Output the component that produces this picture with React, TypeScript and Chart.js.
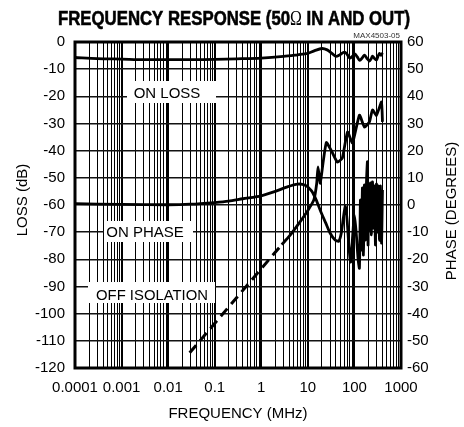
import React, { useEffect, useRef } from "react";
import { Chart, registerables } from "chart.js";

Chart.register(...registerables);

// ---- Data ----
const xTickLabels = ["0.0001", "0.001", "0.01", "0.1", "1", "10", "100", "1000"];

const lossFreq = [0.0001, 0.0003, 0.001, 0.003, 0.01, 0.03, 0.1, 0.3, 1, 3, 6, 10, 14, 20, 26, 33, 40, 48, 61, 70, 79, 90, 102, 115, 130, 148, 165, 185, 210, 228, 244, 268, 297, 320, 346, 372, 400];
const lossDb = [-5.7, -6.1, -6.3, -6.5, -6.5, -6.5, -6.4, -6.2, -5.9, -5.3, -4.7, -4.2, -3.2, -2.4, -2.9, -4.2, -5.3, -4.8, -3.7, -4.6, -5.9, -5.3, -4.4, -5.5, -6.8, -5.8, -4.8, -6.0, -7.0, -6.2, -5.2, -6.0, -6.6, -5.3, -4.2, -4.9, -4.0];

const phaseFreq = [0.0001, 0.001, 0.01, 0.03, 0.1, 0.2, 0.4, 1, 2, 3.5, 6, 9, 12, 15, 19, 24, 30, 38, 46, 52, 58, 64, 70, 76, 83, 92, 100, 110, 120, 128, 134.6, 141.5, 148.7, 156.2, 164.2, 172.5, 181.3, 190.5, 196, 202, 210.4, 221, 232.3, 244.1, 256.5, 269.5, 283.2, 297.6, 312.7, 328.6, 345.3, 362.8, 381.3, 400];
const phaseDeg = [0.5, 0.2, 0.1, 0.3, 0.9, 1.4, 2.3, 3.4, 5.0, 6.6, 7.7, 7.2, 5.2, 2.0, -2.5, -6.5, -10.3, -12.8, -13.3, -10.5, -4.5, -0.5, -6, -15, -21, -11, -3.7, -11, -20, -23.2, 1.8, -16.6, 6.3, -18.4, 7.4, -12.9, 8.1, 15.8, -14.7, 5.5, -9.2, 8.1, -11, 8.5, -8.5, 7, -14.7, 7.7, -10, 7, -13, 7, -14, 5.5];

const isoDashFreq = [0.029, 2.75];
const isoDashDb = [-114.4, -74.6];

const isoFreq = [2.75, 4, 6.6, 10, 13.5, 15.5, 16.5, 18.5, 21, 25, 32, 43, 55, 71, 91, 128, 164, 210, 244, 297, 381, 400];
const isoDb = [-74.6, -71.5, -66.5, -62, -58, -52, -46, -52, -45, -37, -40, -44.2, -42.7, -33.1, -37.2, -26.9, -31.3, -29.4, -25, -27, -22.1, -29.4];

const FONT = "'Liberation Sans', Arial, sans-serif";

function pts(xs: number[], ys: number[]) {
  return xs.map((x, i) => ({ x, y: ys[i] }));
}

function isDecade(v: number) {
  const l = Math.log10(v);
  return Math.abs(l - Math.round(l)) < 1e-6;
}

export default function App() {
  const ref = useRef<HTMLCanvasElement | null>(null);

  useEffect(() => {
    const canvas = ref.current;
    if (!canvas) return;

    const xTicks: number[] = [];
    for (let e = -4; e < 3; e++) {
      for (let m = 1; m < 10; m++) xTicks.push(parseFloat((m * Math.pow(10, e)).toPrecision(6)));
    }
    xTicks.push(1000);

    const overlay = {
      id: "overlay",
      beforeDatasetsDraw(chart: any) {
        const ctx = chart.ctx as CanvasRenderingContext2D;
        ctx.save();
        const boxes: [string, number, number, number, number, number, number, number][] = [
          ["ON LOSS", 127, 81, 89, 22, 167, 98, 0],
          ["ON PHASE", 104, 221, 89, 21, 145, 237, 0],
          ["OFF ISOLATION", 88, 282, 127, 21, 152, 300, 112],
        ];
        for (const [t, bx, by, bw, bh, tx, ty, mw] of boxes) {
          ctx.fillStyle = "#fff";
          ctx.fillRect(bx, by, bw, bh);
          ctx.fillStyle = "#000";
          ctx.font = `15px ${FONT}`;
          ctx.textAlign = "center";
          ctx.textBaseline = "alphabetic";
          if (mw) ctx.fillText(t, tx, ty, mw);
          else ctx.fillText(t, tx, ty);
        }
        ctx.restore();
      },
      afterDatasetsDraw(chart: any) {
        const ctx = chart.ctx as CanvasRenderingContext2D;
        const a = chart.chartArea;
        ctx.save();
        ctx.strokeStyle = "#000";
        ctx.lineWidth = 3;
        ctx.strokeRect(a.left, a.top, a.right - a.left, a.bottom - a.top);
        ctx.restore();
      },
      afterDraw(chart: any) {
        const ctx = chart.ctx as CanvasRenderingContext2D;
        ctx.save();
        ctx.fillStyle = "#000";
        // Title in pieces (Omega in a lighter face), condensed horizontally
        const p1 = "FREQUENCY RESPONSE (50";
        const p2 = "\u03A9";
        const p3 = " IN AND OUT)";
        const f1 = `bold 21px ${FONT}`;
        const f2 = "20px 'Liberation Serif', serif";
        ctx.font = f1;
        const w1 = ctx.measureText(p1).width;
        const w3 = ctx.measureText(p3).width;
        ctx.font = f2;
        const w2 = ctx.measureText(p2).width;
        const total = w1 + w2 + w3;
        const targetW = 352;
        const s = targetW / total;
        ctx.save();
        ctx.translate(234 - targetW / 2, 25);
        ctx.scale(s, 1);
        ctx.textAlign = "left";
        ctx.textBaseline = "alphabetic";
        let x = 0;
        ctx.font = f1;
        ctx.fillText(p1, x, 0);
        ctx.lineWidth = 0.6;
        ctx.strokeStyle = "#000";
        ctx.strokeText(p1, x, 0);
        x += w1;
        ctx.font = f2;
        ctx.fillText(p2, x, 0);
        x += w2;
        ctx.font = f1;
        ctx.fillText(p3, x, 0);
        ctx.strokeText(p3, x, 0);
        ctx.restore();

        // Figure id
        ctx.font = `8px ${FONT}`;
        ctx.fillStyle = "#333";
        ctx.textAlign = "right";
        ctx.textBaseline = "alphabetic";
        ctx.fillText("MAX4503-05", 400, 38);

        // Axis titles
        ctx.fillStyle = "#000";
        ctx.font = `15px ${FONT}`;
        ctx.textAlign = "center";
        ctx.textBaseline = "middle";
        ctx.fillText("FREQUENCY (MHz)", 238, 414);

        ctx.save();
        ctx.translate(23, 200);
        ctx.rotate(-Math.PI / 2);
        ctx.fillText("LOSS (dB)", 0, 0);
        ctx.restore();

        ctx.save();
        ctx.translate(452, 211);
        ctx.rotate(-Math.PI / 2);
        ctx.fillText("PHASE (DEGREES)", 0, 0);
        ctx.restore();

        ctx.restore();
      },
    };

    const lineBase = {
      borderColor: "#000",
      backgroundColor: "#000",
      borderWidth: 2.8,
      pointRadius: 0,
      fill: false,
    };

    const chart = new Chart(canvas, {
      type: "line",
      data: {
        datasets: [
          { ...lineBase, label: "ON LOSS", data: pts(lossFreq, lossDb), yAxisID: "y", tension: 0.3 },
          { ...lineBase, label: "ON PHASE", data: pts(phaseFreq, phaseDeg), yAxisID: "y1", tension: 0.25 },
          { ...lineBase, label: "OFF ISOLATION (dashed)", data: pts(isoDashFreq, isoDashDb), yAxisID: "y", borderDash: [10, 6], borderWidth: 3, tension: 0 },
          { ...lineBase, label: "OFF ISOLATION", data: pts(isoFreq, isoDb), yAxisID: "y", tension: 0.15 },
        ],
      } as any,
      options: {
        animation: false,
        responsive: false,
        maintainAspectRatio: false,
        layout: { padding: { top: 42, left: 0, right: 0, bottom: 0 } },
        plugins: { legend: { display: false }, tooltip: { enabled: false }, title: { display: false } },
        scales: {
          x: {
            type: "logarithmic",
            min: 0.0001,
            max: 1000,
            afterBuildTicks: (scale: any) => {
              scale.ticks = xTicks.map((v) => ({ value: v, major: isDecade(v) }));
            },
            afterFit: (scale: any) => {
              scale.height = 59;
            },
            ticks: {
              autoSkip: false,
              maxRotation: 0,
              minRotation: 0,
              padding: 11,
              color: "#000",
              font: { family: FONT, size: 15 },
              callback: (value: any) => {
                const v = Number(value);
                if (!isDecade(v)) return "";
                return xTickLabels[Math.round(Math.log10(v)) + 4];
              },
            },
            grid: {
              color: "#000",
              lineWidth: (c: any) => (c.tick && isDecade(c.tick.value) ? 2 : 1),
              drawTicks: false,
            },
            border: { display: false },
          },
          y: {
            type: "linear",
            position: "left",
            min: -120,
            max: 0,
            afterFit: (scale: any) => {
              scale.width = 75;
            },
            ticks: {
              stepSize: 10,
              padding: 10,
              color: "#000",
              font: { family: FONT, size: 15 },
            },
            grid: { color: "#111", lineWidth: 1.5, drawTicks: false },
            border: { display: false },
          },
          y1: {
            type: "linear",
            position: "right",
            min: -60,
            max: 60,
            afterFit: (scale: any) => {
              scale.width = 63;
            },
            ticks: {
              stepSize: 10,
              padding: 6,
              color: "#000",
              font: { family: FONT, size: 15 },
            },
            grid: { drawOnChartArea: false, drawTicks: false },
            border: { display: false },
          },
        },
      } as any,
      plugins: [overlay as any],
    });

    return () => chart.destroy();
  }, []);

  return (
    <div style={{ position: "absolute", left: 0, top: 0, width: 464, height: 427, background: "#fff" }}>
      <canvas ref={ref} width={464} height={427} style={{ display: "block" }} />
    </div>
  );
}
